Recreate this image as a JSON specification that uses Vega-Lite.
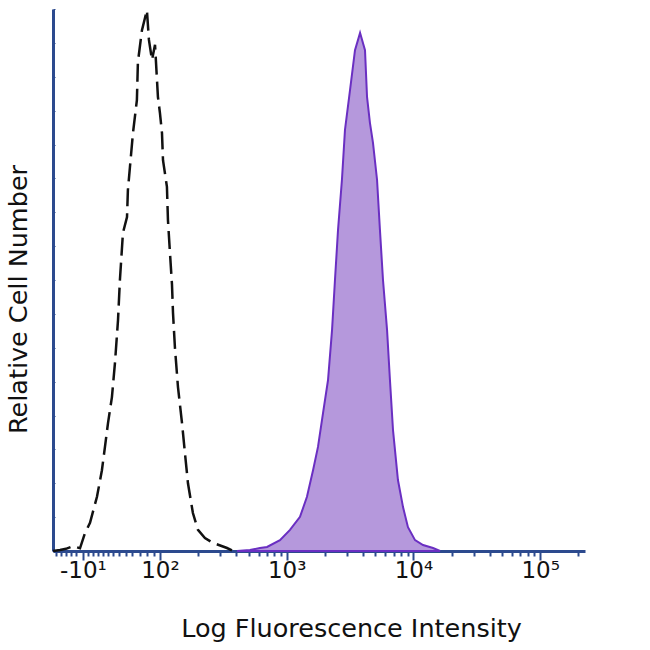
{
  "$schema": "https://vega.github.io/schema/vega-lite/v6.json",
  "autosize": {"type": "none"},
  "padding": {"left": 53, "top": 9, "right": 65, "bottom": 99},
  "width": 532,
  "height": 542,
  "config": {"view": {"stroke": null}, "axis": {"grid": false}},
  "datasets": {
    "stained": [
      {"d": 2.608, "v": 0}, {"d": 2.710, "v": 0.2}, {"d": 2.789, "v": 0.55}, {"d": 2.845, "v": 0.74},
      {"d": 2.947, "v": 2.0}, {"d": 3.026, "v": 3.9}, {"d": 3.105, "v": 6.3}, {"d": 3.160, "v": 10.0},
      {"d": 3.208, "v": 14.9}, {"d": 3.247, "v": 19.2}, {"d": 3.287, "v": 25.5}, {"d": 3.326, "v": 31.5},
      {"d": 3.358, "v": 40.8}, {"d": 3.381, "v": 50.0}, {"d": 3.405, "v": 59.2}, {"d": 3.436, "v": 68.5},
      {"d": 3.460, "v": 77.7}, {"d": 3.500, "v": 85.1}, {"d": 3.539, "v": 92.4}, {"d": 3.579, "v": 95.6},
      {"d": 3.618, "v": 92.4}, {"d": 3.634, "v": 83.8}, {"d": 3.657, "v": 79.0}, {"d": 3.681, "v": 75.3},
      {"d": 3.713, "v": 68.5}, {"d": 3.736, "v": 59.2}, {"d": 3.760, "v": 50.0}, {"d": 3.792, "v": 40.8},
      {"d": 3.815, "v": 31.5}, {"d": 3.839, "v": 22.3}, {"d": 3.878, "v": 13.1}, {"d": 3.918, "v": 8.1},
      {"d": 3.957, "v": 4.4}, {"d": 4.013, "v": 2.0}, {"d": 4.076, "v": 1.1}, {"d": 4.155, "v": 0.55},
      {"d": 4.210, "v": 0}
    ],
    "isotype": [
      {"d": 1.156, "v": 0}, {"d": 1.211, "v": 0.2}, {"d": 1.258, "v": 0.4}, {"d": 1.313, "v": 0.9},
      {"d": 1.369, "v": 0.5}, {"d": 1.408, "v": 3.3}, {"d": 1.448, "v": 5.2}, {"d": 1.503, "v": 10.0},
      {"d": 1.542, "v": 14.9}, {"d": 1.566, "v": 19.2}, {"d": 1.590, "v": 23.6}, {"d": 1.621, "v": 28.4},
      {"d": 1.645, "v": 34.7}, {"d": 1.669, "v": 42.6}, {"d": 1.684, "v": 50.0}, {"d": 1.708, "v": 58.7},
      {"d": 1.740, "v": 61.6}, {"d": 1.747, "v": 66.6}, {"d": 1.763, "v": 70.8}, {"d": 1.787, "v": 77.1},
      {"d": 1.818, "v": 83.2}, {"d": 1.826, "v": 90.2}, {"d": 1.858, "v": 96.1}, {"d": 1.897, "v": 99.8},
      {"d": 1.913, "v": 94.3}, {"d": 1.937, "v": 90.6}, {"d": 1.961, "v": 93.4}, {"d": 1.984, "v": 83.8},
      {"d": 2.000, "v": 80.8}, {"d": 2.016, "v": 77.1}, {"d": 2.024, "v": 72.1}, {"d": 2.055, "v": 67.2},
      {"d": 2.063, "v": 61.1}, {"d": 2.079, "v": 55.0}, {"d": 2.095, "v": 49.1}, {"d": 2.103, "v": 43.9},
      {"d": 2.118, "v": 37.6}, {"d": 2.142, "v": 30.3}, {"d": 2.174, "v": 23.6}, {"d": 2.197, "v": 18.1},
      {"d": 2.221, "v": 12.5}, {"d": 2.260, "v": 7.0}, {"d": 2.300, "v": 3.9}, {"d": 2.355, "v": 2.4},
      {"d": 2.418, "v": 1.5}, {"d": 2.529, "v": 0.55}, {"d": 2.568, "v": 0.1}
    ]
  },
  "encoding": {
    "y": {
      "field": "v", "type": "quantitative",
      "scale": {"domain": [0, 100], "nice": false, "zero": true},
      "axis": {
        "title": "Relative Cell Number",
        "labels": false,
        "values": [0, 6.25, 12.5, 18.75, 25, 31.25, 37.5, 43.75, 50, 56.25, 62.5, 68.75, 75, 81.25, 87.5, 93.75, 100],
        "tickSize": -2, "tickColor": "#2c4a8e", "tickWidth": 1,
        "domainColor": "#2c4a8e", "domainWidth": 3,
        "titleFont": "DejaVu Sans", "titleFontSize": 25.5, "titleFontWeight": "normal", "titleColor": "#111111",
        "titleX": -35, "titleY": 290, "titleAngle": -90, "titleAlign": "center", "titleBaseline": "middle"
      }
    }
  },
  "layer": [
    {
      "data": {"name": "stained"},
      "mark": {"type": "area", "fill": "#b598dc", "fillOpacity": 1, "stroke": "#6a2fc2", "strokeWidth": 2},
      "encoding": {
        "x": {
          "field": "d", "type": "quantitative",
          "scale": {"domain": [1.156, 5.354], "nice": false, "zero": false},
          "axis": {
            "orient": "bottom",
            "title": "Log Fluorescence Intensity",
            "values": [1.392, 2, 3, 4, 5],
            "labelExpr": "datum.value < 1.5 ? '-10¹' : datum.value < 2.5 ? '10²' : datum.value < 3.5 ? '10³' : datum.value < 4.5 ? '10⁴' : '10⁵'",
            "tickSize": 9, "tickWidth": 2, "tickColor": "#2c4a8e",
            "domainColor": "#2c4a8e", "domainWidth": 3,
            "labelFont": "DejaVu Sans", "labelFontSize": 23, "labelColor": "#111111", "labelPadding": -1,
            "labelFlush": false, "labelOverlap": false,
            "titleFont": "DejaVu Sans", "titleFontSize": 25.5, "titleFontWeight": "normal", "titleColor": "#111111",
            "titleX": 298, "titleY": 77, "titleAlign": "center", "titleBaseline": "middle"
          }
        }
      }
    },
    {
      "data": {"name": "isotype"},
      "mark": {"type": "line", "color": "#111111", "strokeWidth": 2.5, "strokeDash": [18, 7]},
      "encoding": {
        "x": {
          "field": "d", "type": "quantitative",
          "scale": {"domain": [1.156, 5.354], "nice": false, "zero": false},
          "axis": {
            "orient": "bottom",
            "title": null,
            "labels": false,
            "domain": false,
            "values": [1.18, 1.22, 1.26, 1.3, 1.34, 1.43, 1.47, 1.51, 1.55, 1.59, 1.63, 1.68, 1.73, 1.78, 1.84, 1.9, 1.95,
                       2.301, 2.477, 2.602, 2.699, 2.778, 2.845, 2.903, 2.954,
                       3.301, 3.477, 3.602, 3.699, 3.778, 3.845, 3.903, 3.954,
                       4.301, 4.477, 4.602, 4.699, 4.778, 4.845, 4.903, 4.954,
                       5.301],
            "tickSize": 5, "tickWidth": 2, "tickColor": "#2c4a8e"
          }
        }
      }
    }
  ],
  "resolve": {"axis": {"x": "independent"}}
}
